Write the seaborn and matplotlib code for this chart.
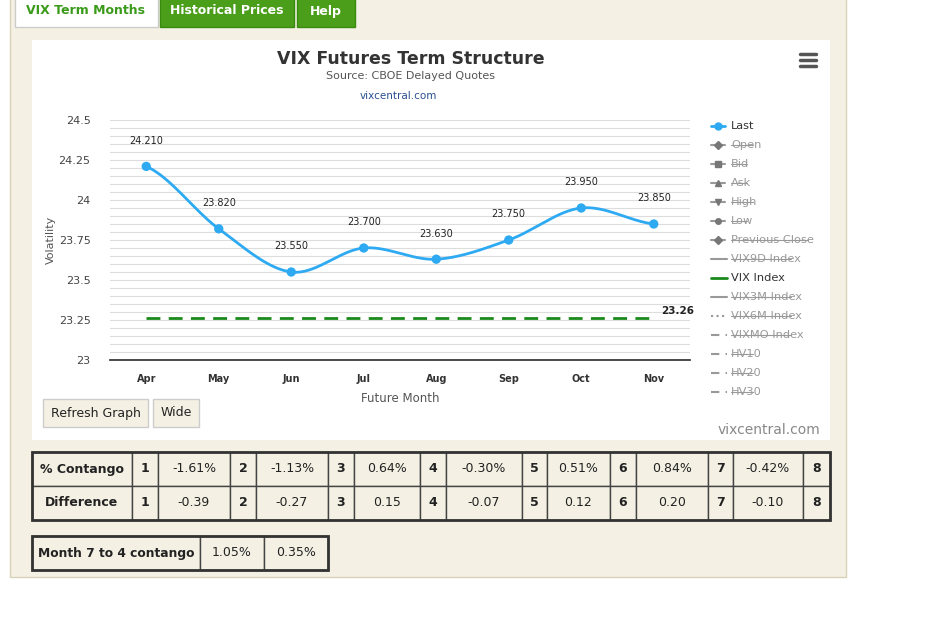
import numpy as np
import pandas as pd
import matplotlib
matplotlib.use("Agg")
import matplotlib.pyplot as plt
import seaborn as sns
from matplotlib.patches import Rectangle

months = ["Apr", "May", "Jun", "Jul", "Aug", "Sep", "Oct", "Nov"]
last = [24.21, 23.82, 23.55, 23.70, 23.63, 23.75, 23.95, 23.85]
vix_index = 23.26
legend_items = ["Last", "Open", "Bid", "Ask", "High", "Low", "Previous Close", "VIX9D Index",
                "VIX Index", "VIX3M Index", "VIX6M Index", "VIXMO Index", "HV10", "HV20", "HV30"]
contango_labels = ["-1.61%", "-1.13%", "0.64%", "-0.30%", "0.51%", "0.84%", "-0.42%"]
diff_labels = ["-0.39", "-0.27", "0.15", "-0.07", "0.12", "0.20", "-0.10"]
m74 = ["1.05%", "0.35%"]

sns.set_theme(style="white")
plt.rcParams['font.family'] = ['DejaVu Sans']
W, H = 929, 629
fig = plt.figure(figsize=(W/100, H/100), dpi=100)
bg = fig.add_axes([0, 0, 1, 1])
bg.set_xlim(0, W); bg.set_ylim(H, 0); bg.axis("off")

cream = "#f4f1e4"
bg.add_patch(Rectangle((10, -5), 836, 582, fc=cream, ec="#d8d3b8", lw=1))
bg.add_patch(Rectangle((15, -2), 143, 29, fc="white", ec="#ccc", lw=1))
bg.text(86, 11, "VIX Term Months", color="#3a9a1a", fontsize=9, weight="bold", ha="center", va="center")
for x0, w, t in [(160, 134, "Historical Prices"), (297, 58, "Help")]:
    bg.add_patch(Rectangle((x0, -2), w, 29, fc="#4a9e1a", ec="#3b8a10", lw=1))
    bg.text(x0 + w/2, 11, t, color="white", fontsize=9, weight="bold", ha="center", va="center")
bg.add_patch(Rectangle((32, 40), 798, 400, fc="white", ec="none"))
bg.text(411, 59, "VIX Futures Term Structure", fontsize=12.5, weight="bold", color="#333", ha="center", va="center")
bg.text(411, 76, "Source: CBOE Delayed Quotes", fontsize=8, color="#555", ha="center", va="center")
bg.text(398, 96, "vixcentral.com", fontsize=7.5, color="#2a4f8f", ha="center", va="center")
for yy in (54, 60, 66):
    bg.plot([800, 816], [yy, yy], color="#555", lw=2.5)
bg.text(820, 430, "vixcentral.com", fontsize=10, color="#888", ha="right", va="center")
for x0, w, t in [(43, 105, "Refresh Graph"), (153, 46, "Wide")]:
    bg.add_patch(Rectangle((x0, 399), w, 28, fc=cream, ec="#ccc", lw=1))
    bg.text(x0 + w/2, 413, t, fontsize=9, color="#222", ha="center", va="center")

for i, t in enumerate(legend_items):
    y = 126 + i * 19
    active = t in ("Last", "VIX Index")
    col = "#333" if active else "#999"
    if t == "Last":
        bg.plot([711, 725], [y, y], color="#2eaaf2", lw=2); bg.plot(718, y, "o", color="#2eaaf2", ms=5)
    elif t == "VIX Index":
        bg.plot([711, 727], [y, y], color="#1a8a1a", lw=2)
    elif i < 7:
        mk = {"Open": "D", "Bid": "s", "Ask": "^", "High": "v", "Low": "o", "Previous Close": "D"}[t]
        bg.plot([711, 725], [y, y], color="#999", lw=1.5); bg.plot(718, y, mk, color="#777", ms=4)
    else:
        ls = {"VIX9D Index": "-", "VIX3M Index": "-", "VIX6M Index": ":"}.get(t, (0, (4, 3)))
        bg.plot([711, 727], [y, y], color="#999", lw=1.5, ls=ls)
    bg.text(731, y, t, fontsize=8.2, color=col, va="center")
    if not active:
        wpx = len(t) * 5.5
        bg.plot([731, 731 + wpx], [y, y], color="#999", lw=0.8)

ax = fig.add_axes([110/W, (H-360)/H, 580/W, 240/H])
x = np.arange(len(months))
xs = np.linspace(0, len(months) - 1, 400)
p = np.array(last)
pp = np.concatenate([[p[0]], p, [p[-1]]])
ys = []
for xv in xs:
    i = min(int(xv), len(p) - 2); t = xv - i
    p0, p1, p2, p3 = pp[i], pp[i+1], pp[i+2], pp[i+3]
    ys.append(0.5*((2*p1) + (-p0+p2)*t + (2*p0-5*p1+4*p2-p3)*t**2 + (-p0+3*p1-3*p2+p3)*t**3))
sns.lineplot(x=xs, y=ys, ax=ax, color="#2eaaf2", lw=2)
sns.scatterplot(x=x, y=last, ax=ax, color="#2eaaf2", s=45, edgecolor="none", zorder=5)
ax.plot([0, len(months)-1], [vix_index]*2, color="#1a8a1a", lw=2, ls=(0, (5, 3)))
ax.text(len(months)-1 + 0.1, vix_index + 0.015, f"{vix_index:.2f}", fontsize=7.5, weight="bold", color="#222", va="bottom")
for xi, v in zip(x, last):
    ax.text(xi, v + 0.16, f"{v:.3f}", fontsize=7, color="#222", ha="center", va="center")
ax.set_xlim(-0.5, len(months) - 0.5)
ax.set_ylim(23, 24.5)
ax.set_yticks([23, 23.25, 23.5, 23.75, 24, 24.25, 24.5])
ax.set_yticklabels(["23", "23.25", "23.5", "23.75", "24", "24.25", "24.5"], fontsize=8, color="#444")
ax.set_yticks(np.arange(23, 24.5, 0.05), minor=True)
ax.grid(True, which="both", axis="y", color="#ddd", lw=0.8)
ax.set_xticks(x); ax.set_xticklabels(months, fontsize=7, weight="bold", color="#333")
ax.tick_params(axis="y", pad=14, length=0); ax.tick_params(axis="x", pad=10, length=0)
for s in ["top", "right", "left"]:
    ax.spines[s].set_visible(False)
ax.spines["bottom"].set_color("#333")
ax.set_ylabel("Volatility", fontsize=8, color="#555", labelpad=2)
ax.set_xlabel("Future Month", fontsize=8.5, color="#555", labelpad=6)
ax.set_facecolor("none")

bounds = [32, 132, 158, 230, 256, 328, 354, 420, 446, 522, 547, 610, 636, 708, 733, 803, 830]
rows = [("% Contango", contango_labels), ("Difference", diff_labels)]
for r, (name, vals) in enumerate(rows):
    y0 = 452 + r * 34
    cells = [name]
    for k in range(7):
        cells += [str(k + 1), vals[k]]
    cells.append("8")
    for c in range(len(bounds) - 1):
        x0, x1 = bounds[c], bounds[c+1]
        bg.add_patch(Rectangle((x0, y0), x1 - x0, 34, fc=cream, ec="#444", lw=1))
        bold = c == 0 or c % 2 == 1
        bg.text((x0 + x1)/2, y0 + 17, cells[c], fontsize=9, ha="center", va="center",
                weight="bold" if bold else "normal", color="#222")
bg.add_patch(Rectangle((32, 452), 798, 68, fc="none", ec="#333", lw=2))
b2 = [32, 200, 264, 328]
c2 = ["Month 7 to 4 contango"] + m74
for c in range(3):
    bg.add_patch(Rectangle((b2[c], 536), b2[c+1] - b2[c], 34, fc=cream, ec="#444", lw=1))
    bg.text((b2[c] + b2[c+1])/2, 553, c2[c], fontsize=9 if c else 8.8, ha="center", va="center",
            weight="bold" if c == 0 else "normal", color="#222")
bg.add_patch(Rectangle((32, 536), 296, 34, fc="none", ec="#333", lw=2))

fig.savefig("out.png", dpi=100)
